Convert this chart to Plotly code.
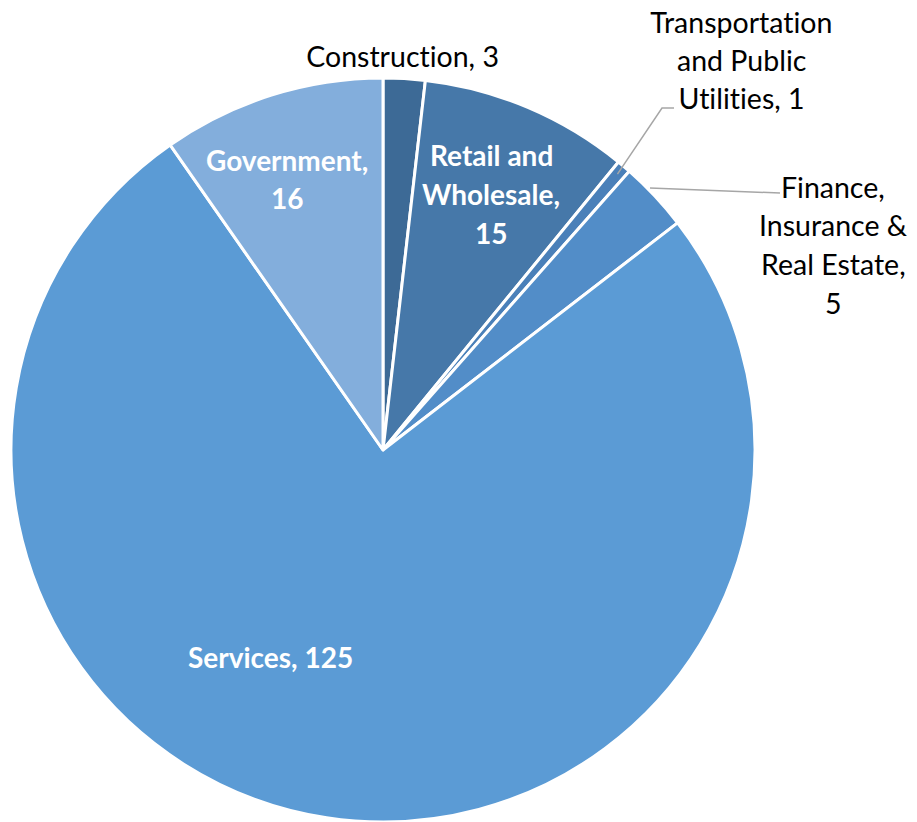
import math
import plotly.graph_objects as go

# Data
sectors = ["Construction", "Retail and Wholesale", "Transportation and Public Utilities",
           "Finance, Insurance & Real Estate", "Services", "Government"]
values = [3, 15, 1, 5, 125, 16]
colors = ["#3D6A96", "#4678A9", "#4A80B9", "#528DC8", "#5B9BD5", "#83AEDC"]

W, H = 917, 822
CX, CY, R = 383, 450, 372


def px(x):
    return x / W


def py(y):
    return 1 - y / H


fig = go.Figure(go.Pie(
    labels=sectors, values=values, sort=False, direction="clockwise", rotation=0,
    marker=dict(colors=colors, line=dict(color="white", width=3)),
    textinfo="none", hoverinfo="label+value", showlegend=False,
    domain=dict(x=[px(CX - R), px(CX + R)], y=[py(CY + R), py(CY - R)]),
))

FONT = "Lato, 'Open Sans', sans-serif"


def label(lines, x, y0, gap, color="black", bold=False, size=28.5):
    for i, t in enumerate(lines):
        fig.add_annotation(
            text=f"<b>{t}</b>" if bold else t, x=px(x), y=py(y0 + i * gap),
            xref="paper", yref="paper", xanchor="center", yanchor="middle",
            showarrow=False, font=dict(family=FONT, size=size, color=color))


total = sum(values)


def mid_point(idx, r):
    before = sum(values[:idx]) + values[idx] / 2
    a = math.radians(before / total * 360)
    return CX + r * math.sin(a), CY - r * math.cos(a)


# Leader lines
tx, ty = mid_point(2, 362)
fig.add_shape(type="path", xref="paper", yref="paper",
              path=f"M {px(tx)} {py(ty)} L {px(662)} {py(108)} L {px(674)} {py(108)}",
              line=dict(color="#A6A6A6", width=1.5))
fig.add_shape(type="line", xref="paper", yref="paper",
              x0=px(650), y0=py(188), x1=px(780), y1=py(193),
              line=dict(color="#A6A6A6", width=1.5))

label([f"Construction, {values[0]}"], 402, 56, 38)
label(["Transportation", "and Public", f"Utilities, {values[2]}"], 741, 22, 38)
label(["Finance,", "Insurance &", "Real Estate,", f"{values[3]}"], 833, 187, 38.5)
label(["Retail and", "Wholesale,", f"{values[1]}"], 491, 155, 39, color="white", bold=True, size=28)
label(["Government,", f"{values[5]}"], 287, 160, 38, color="white", bold=True, size=28)
label([f"Services, {values[4]}"], 270, 657, 38, color="white", bold=True, size=28)

fig.update_layout(width=W, height=H, margin=dict(l=0, r=0, t=0, b=0),
                  paper_bgcolor="white", plot_bgcolor="white")
post = ("document.body.style.margin='0';"
        "var s=document.createElement('style');"
        "s.textContent='text{font-variant-ligatures:none !important;}';"
        "document.head.appendChild(s);")
fig.write_html("out.html", post_script=post, config={"displayModeBar": False})
